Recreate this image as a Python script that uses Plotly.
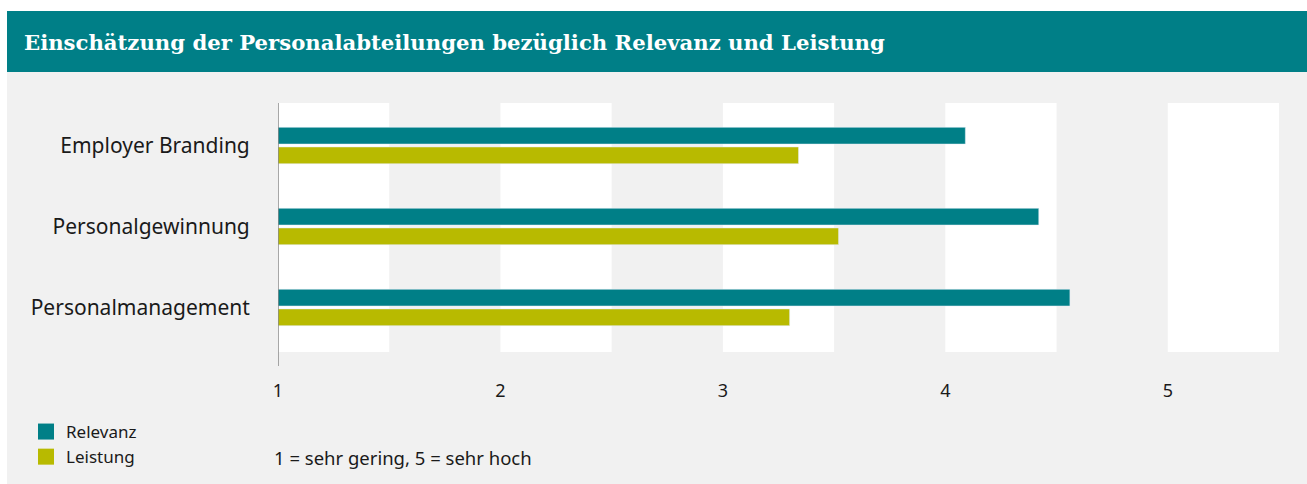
import plotly.graph_objects as go

# data
categories = ["Employer Branding", "Personalgewinnung", "Personalmanagement"]
relevanz = [4.09, 4.42, 4.56]
leistung = [3.34, 3.52, 3.30]
tick_vals = [1, 2, 3, 4, 5]
tick_text = ["1", "2", "3", "4", "5"]

TEAL = "#007F87"
OLIVE = "#B8BA00"
GRAY = "#F1F1F1"
TEXT = "#1A1A1A"

W, H = 1307, 484
L, R, T, B = 278, 28, 103, 132


def px_x(px):
    # pixel -> paper x
    return (px - L) / (W - L - R)


def px_y(py):
    # pixel -> paper y
    return (H - B - py) / (H - T - B)


fig = go.Figure()

fig.add_trace(go.Bar(y=categories, x=relevanz, orientation="h", name="Relevanz",
                     marker_color=TEAL, showlegend=False, hoverinfo="x+y"))
fig.add_trace(go.Bar(y=categories, x=leistung, orientation="h", name="Leistung",
                     marker_color=OLIVE, showlegend=False, hoverinfo="x+y"))

# legend entries as square markers
for name, col in [("Relevanz", TEAL), ("Leistung", OLIVE)]:
    fig.add_trace(go.Scatter(x=[None], y=[None], mode="markers", name=name,
                             marker=dict(symbol="square", size=16, color=col)))

shapes = []
# outer backgrounds
shapes.append(dict(type="rect", xref="paper", yref="paper", layer="below",
                   x0=px_x(7), x1=px_x(W + 2), y0=px_y(H + 2), y1=px_y(72),
                   fillcolor=GRAY, line_width=0))
shapes.append(dict(type="rect", xref="paper", yref="paper", layer="below",
                   x0=px_x(7), x1=px_x(W + 2), y0=px_y(72), y1=px_y(11),
                   fillcolor=TEAL, line_width=0))
# white bands
for v in tick_vals:
    shapes.append(dict(type="rect", xref="x", yref="paper", layer="below",
                       x0=v, x1=v + 0.5, y0=0, y1=1,
                       fillcolor="white", line_width=0))
# axis line at 1
shapes.append(dict(type="line", xref="x", yref="paper",
                   x0=1, x1=1, y0=px_y(366), y1=1,
                   line=dict(color="#8A8A8A", width=1.5)))

annotations = [
    dict(text="<b>Einschätzung der Personalabteilungen bezüglich Relevanz und Leistung</b>",
         xref="paper", yref="paper", x=px_x(22), y=px_y(42),
         xanchor="left", yanchor="middle", showarrow=False,
         font=dict(family="DejaVu Serif", size=21.2, color="white")),
    dict(text="1 = sehr gering, 5 = sehr hoch",
         xref="paper", yref="paper", x=px_x(272), y=px_y(457),
         xanchor="left", yanchor="middle", showarrow=False,
         font=dict(family="Noto Sans", size=18.5, color=TEXT)),
]

fig.update_layout(
    width=W, height=H,
    # legend sits low, keep it from pushing the bottom margin
    margin=dict(l=L, r=R, t=T, b=B, pad=0, autoexpand=False),
    paper_bgcolor="white",
    plot_bgcolor=GRAY,
    barmode="group",
    bargap=0.515,
    bargroupgap=0.15,
    font=dict(family="Noto Sans", color=TEXT),
    shapes=shapes,
    annotations=annotations,
    legend=dict(x=px_x(26), y=px_y(414), xanchor="left", yanchor="top",
                bgcolor="rgba(0,0,0,0)", font=dict(size=17, color=TEXT),
                tracegroupgap=0),
    xaxis=dict(range=[1, 5.5], tickvals=tick_vals, ticktext=tick_text,
               showgrid=False, zeroline=False, showline=False,
               ticks="outside", ticklen=22, tickcolor="rgba(0,0,0,0)",
               tickfont=dict(size=18, color=TEXT), fixedrange=True,
               automargin=False),
    yaxis=dict(range=[2.55, -0.525], showgrid=False, zeroline=False,
               showline=False, ticks="outside", ticklen=23,
               tickcolor="rgba(0,0,0,0)",
               tickfont=dict(size=21, color=TEXT), fixedrange=True,
               automargin=False),
)

# drop the default page margin so the figure sits at the window's corner
fig.write_html("out.html", config={"displayModeBar": False},
               post_script="document.body.style.margin='0';"
                           "document.body.style.overflow='hidden';")
